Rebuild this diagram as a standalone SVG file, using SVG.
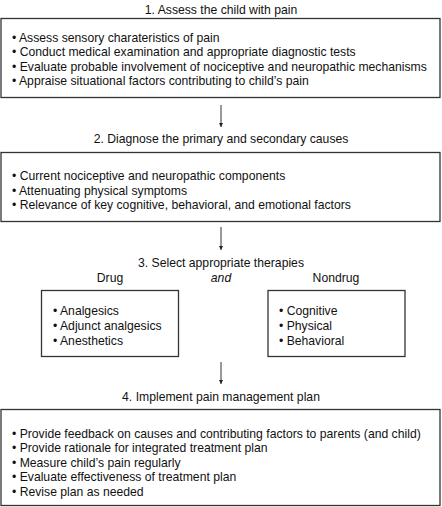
<svg xmlns="http://www.w3.org/2000/svg" width="442" height="507" viewBox="0 0 442 507">
<style>
text{font-family:"Liberation Sans",Arial,sans-serif;font-size:12.2px;fill:#111}
.t{text-anchor:middle}
.box{fill:#fff;stroke:#333;stroke-width:1.3}
.c{stroke:#333;stroke-width:1;fill:none}
</style>
<defs>
<marker id="ah" markerWidth="6" markerHeight="6" refX="4" refY="2.5" orient="auto" markerUnits="userSpaceOnUse">
<path d="M0,0.5 L4,2.5 L0,4.5 Z" fill="#222"/>
</marker>
</defs>
<rect width="442" height="507" fill="#fff"/>
<g id="step1">
<text class="t" x="221" y="13.5">1. Assess the child with pain</text>
<rect class="box" x="1" y="18.5" width="439" height="79"/>
<text x="12" y="41.5">• Assess sensory charateristics of pain</text>
<text x="12" y="56">• Conduct medical examination and appropriate diagnostic tests</text>
<text x="12" y="70.5">• Evaluate probable involvement of nociceptive and neuropathic mechanisms</text>
<text x="12" y="85">• Appraise situational factors contributing to child’s pain</text>
</g>
<g id="step2">
<text class="t" x="221" y="142.5">2. Diagnose the primary and secondary causes</text>
<rect class="box" x="1" y="152.5" width="439" height="69"/>
<text x="12" y="179.5">• Current nociceptive and neuropathic components</text>
<text x="12" y="194.5">• Attenuating physical symptoms</text>
<text x="12" y="209">• Relevance of key cognitive, behavioral, and emotional factors</text>
</g>
<g id="step3">
<text class="t" x="221" y="266.5">3. Select appropriate therapies</text>
<text class="t" x="221" y="281.5" font-style="italic">and</text>
</g>
<g id="drug">
<text class="t" x="110" y="281.5">Drug</text>
<rect class="box" x="41.5" y="290.5" width="137" height="66"/>
<text x="53" y="315">• Analgesics</text>
<text x="53" y="330">• Adjunct analgesics</text>
<text x="53" y="344.5">• Anesthetics</text>
</g>
<g id="nondrug">
<text class="t" x="336" y="281.5">Nondrug</text>
<rect class="box" x="268" y="290.5" width="137" height="66"/>
<text x="279" y="315">• Cognitive</text>
<text x="279" y="330">• Physical</text>
<text x="279" y="344.5">• Behavioral</text>
</g>
<g id="step4">
<text class="t" x="221" y="400.5">4. Implement pain management plan</text>
<rect class="box" x="1" y="409.5" width="439" height="96"/>
<text x="12" y="437.5">• Provide feedback on causes and contributing factors to parents (and child)</text>
<text x="12" y="452">• Provide rationale for integrated treatment plan</text>
<text x="12" y="466.5">• Measure child’s pain regularly</text>
<text x="12" y="481">• Evaluate effectiveness of treatment plan</text>
<text x="12" y="495.5">• Revise plan as needed</text>
</g>
<g id="connectors">
<line class="c" x1="221" y1="105" x2="221" y2="127" marker-end="url(#ah)"/>
<line class="c" x1="221" y1="227" x2="221" y2="250" marker-end="url(#ah)"/>
<line class="c" x1="221" y1="362" x2="221" y2="384" marker-end="url(#ah)"/>
</g>
</svg>
